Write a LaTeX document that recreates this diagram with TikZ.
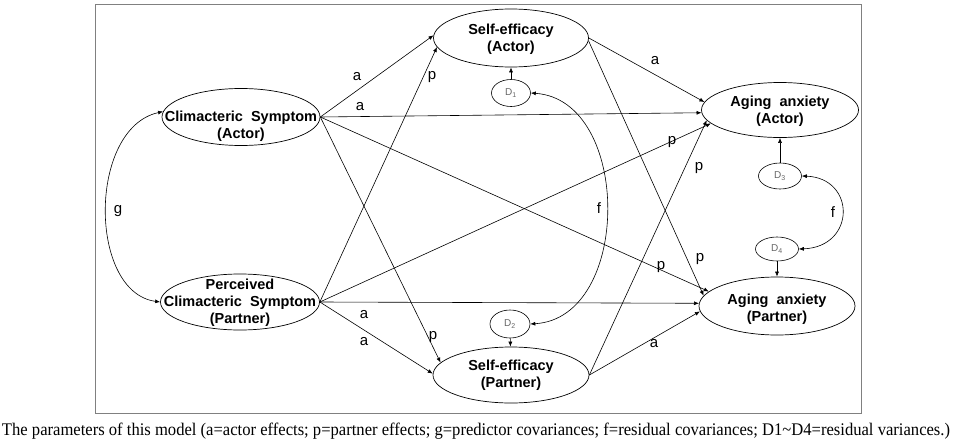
\documentclass[tikz,border=0pt]{standalone}
\usepackage{fontspec}
\setmainfont{Liberation Serif}
\setsansfont{Liberation Sans}
\usetikzlibrary{shapes.geometric,arrows.meta}
\tikzset{
  ell/.style={ellipse, draw, inner sep=0pt, line width=0.7pt},
  dnode/.style={ellipse, draw, inner sep=0pt, line width=0.6pt, minimum width=41pt, minimum height=26pt},
  dtxt/.style={font=\sffamily\fontsize{10}{10}\selectfont, text=black!60},
  ntxt/.style={font=\sffamily\bfseries\fontsize{14.5}{17}\selectfont, align=center},
  pth/.style={-{Latex[length=5pt,width=4pt]}, line width=0.6pt},
  cov/.style={{Latex[length=5pt,width=4pt]}-{Latex[length=5pt,width=4pt]}, line width=0.6pt},
  lbl/.style={font=\sffamily\fontsize{15}{15}\selectfont, inner sep=0pt},
  frame/.style={draw=black!50, line width=0.8pt}
}
\begin{document}
\begin{tikzpicture}[x=1pt,y=-1pt]
\useasboundingbox (0,0) rectangle (953,439);
\draw[frame] (95,4) rectangle (861,413);

% main nodes
\node[ell, minimum width=158pt, minimum height=57pt,
  label={[ntxt, yshift=-9pt]center:{Climacteric\ \ Symptom\\(Actor)}}] (cs) at (241,117) {};
\node[ell, minimum width=159pt, minimum height=56pt,
  label={[ntxt, yshift=-1pt]center:{Perceived\\Climacteric\ \ Symptom\\(Partner)}}] (pcs) at (240,302) {};
\node[ell, minimum width=155pt, minimum height=58pt,
  label={[ntxt, yshift=-1pt]center:{Self-efficacy\\(Actor)}}] (sea) at (511,38) {};
\node[ell, minimum width=156pt, minimum height=56pt,
  label={[ntxt, yshift=0pt]center:{Self-efficacy\\(Partner)}}] (sep) at (511,375) {};
\node[ell, minimum width=157pt, minimum height=55pt,
  label={[ntxt, yshift=-1pt]center:{Aging\ \ anxiety\\(Actor)}}] (aaa) at (780,110) {};
\node[ell, minimum width=156pt, minimum height=58pt,
  label={[ntxt, yshift=-3pt]center:{Aging\ \ anxiety\\(Partner)}}] (aap) at (777,306) {};

% residual nodes
\node[dnode, minimum width=39pt, minimum height=27pt] (d1) at (511,93) {};
\node[dtxt] at (d1) {D\textsubscript{1}};
\node[dnode, minimum width=40pt, minimum height=28pt] (d2) at (510,324) {};
\node[dtxt] at (d2) {D\textsubscript{2}};
\node[dnode, minimum width=43pt, minimum height=26pt] (d3) at (780,176) {};
\node[dtxt] at (d3) {D\textsubscript{3}};
\node[dnode, minimum width=43pt, minimum height=24pt] (d4) at (777,249) {};
\node[dtxt] at (d4) {D\textsubscript{4}};

% residual arrows
\draw[pth] (d1) -- (sea);
\draw[pth] (d2) -- (sep);
\draw[pth] (d3) -- (aaa);
\draw[pth] (d4) -- (aap);

% covariances
\draw[cov] (cs.176) .. controls (88,128) and (88,292) .. (pcs.west);
\draw[cov] (d1.east) .. controls (632,100) and (632,318) .. (d2.east);
\draw[cov] (d3.east) .. controls (856,178) and (856,247) .. (d4.east);

% paths from predictors
\draw[pth] (cs.east) -- (sea.178);
\draw[pth] (cs.east) -- (aaa.182);
\draw[pth] (cs.east) -- (aap.168);
\draw[pth] (cs.east) -- (sep.170);
\draw[pth] (pcs.east) -- (sea.187);
\draw[pth] (pcs.east) -- (aaa.191);
\draw[pth] (pcs.east) -- (aap.178);
\draw[pth] (pcs.east) -- (sep.179);

% paths from mediators
\draw[pth] (sea.east) -- (aaa.174);
\draw[pth] (sea.358) -- (aap.172);
\draw[pth] (sep.east) -- (aaa.188);
\draw[pth] (sep.east) -- (aap.184);

% labels
\node[lbl] (la1) at (357,77) {a};
\node[lbl] (la2) at (360,107) {a};
\node[lbl] (lp1) at (432,77) {p};
\node[lbl] (lg) at (118,211) {g};
\node[lbl] (lf1) at (599,208) {f};
\node[lbl] (lf2) at (833,212) {f};
\node[lbl] (la3) at (655,61) {a};
\node[lbl] (lp2) at (672,142) {p};
\node[lbl] (lp3) at (699,168) {p};
\node[lbl] (lp4) at (661,267) {p};
\node[lbl] (lp5) at (700,259) {p};
\node[lbl] (la4) at (654,344) {a};
\node[lbl] (la5) at (364,315) {a};
\node[lbl] (la6) at (364,342) {a};
\node[lbl] (lp6) at (433,337) {p};

% caption
\node[anchor=base, inner sep=0pt] (cap) at (476,435)
  {\resizebox{948pt}{12.5pt}{\fontsize{17}{17}\selectfont The parameters of this model (a=actor effects; p=partner effects; g=predictor covariances; f=residual covariances; D1\textasciitilde D4=residual variances.)}};
\end{tikzpicture}
\end{document}
